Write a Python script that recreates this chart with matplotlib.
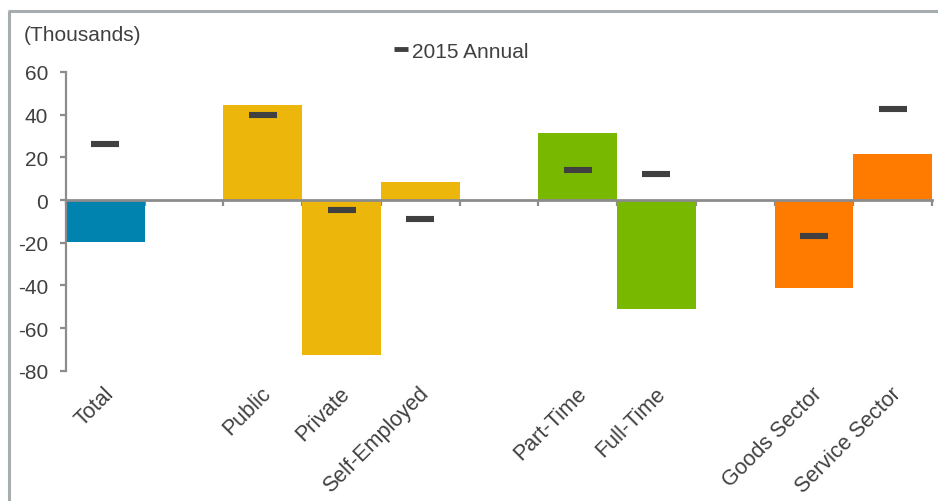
import matplotlib
matplotlib.use("Agg")
import matplotlib.pyplot as plt
from matplotlib.lines import Line2D
import numpy as np

plt.rcParams['font.family'] = ['Liberation Sans', 'DejaVu Sans']

# Data (blank slots separate the groups, as in the source spreadsheet)
categories = ["Total", "", "Public", "Private", "Self-Employed", "",
              "Part-Time", "Full-Time", "", "Goods Sector", "Service Sector"]
monthly_change = [-19.5, np.nan, 44.5, -72.7, 8.4, np.nan,
                  31.4, -51.0, np.nan, -41.1, 21.6]
annual_2015 = [26.4, np.nan, 40.0, -4.7, -8.8, np.nan,
               14.0, 12.0, np.nan, -17.0, 42.7]
bar_colors = ["#0083AE", "none", "#EDB60B", "#EDB60B", "#EDB60B", "none",
              "#78B900", "#78B900", "none", "#FF7B00", "#FF7B00"]
y_ticks = [60, 40, 20, 0, -20, -40, -60, -80]
legend_label = "2015 Annual"
unit_label = "(Thousands)"

W, H = 938, 502
fig = plt.figure(figsize=(W / 100, H / 100), dpi=100)

# frame lines (left and top)
border = "#A7ACAE"
fig.add_artist(Line2D([8.5 / W, 8.5 / W], [0, 1 - 12 / H], color=border, lw=2.2,
                      transform=fig.transFigure, solid_capstyle='butt'))
fig.add_artist(Line2D([7.5 / W, 1], [1 - 12 / H, 1 - 12 / H], color=border, lw=2.2,
                      transform=fig.transFigure, solid_capstyle='butt'))

ax_left, ax_right = 66 / W, 932 / W
ax_top, ax_bot = 1 - 73 / H, 1 - 371.7 / H
ax = fig.add_axes([ax_left, ax_bot, ax_right - ax_left, ax_top - ax_bot])

n = len(categories)
x = np.arange(n) + 0.5
vals = np.array(monthly_change, dtype=float)
ax.bar(x, np.nan_to_num(vals), width=1.0, color=bar_colors, linewidth=0, zorder=2)
ax.plot(x, annual_2015, linestyle='none', marker='_', markersize=19.5,
        markeredgewidth=4.4, color="#404040", zorder=4)

ax.set_xlim(0, n)
ax.set_ylim(-80, 60)
ax.set_yticks(y_ticks)
ax.set_yticklabels([str(v) for v in y_ticks])

gray = "#8C8C8C"
text_color = "#404040"
for s in ['top', 'right']:
    ax.spines[s].set_visible(False)
ax.spines['left'].set_color(gray)
ax.spines['left'].set_linewidth(1.6)
ax.spines['bottom'].set_position(('data', 0))
ax.spines['bottom'].set_color(gray)
ax.spines['bottom'].set_linewidth(2.0)
ax.spines['bottom'].set_zorder(3)

ax.set_xticks(np.arange(n + 1))
ax.set_xticklabels([])
ax.tick_params(axis='x', direction='out', length=4.5, width=1.6, color=gray)
ax.tick_params(axis='y', direction='out', length=4.5, width=1.6, color=gray,
               labelsize=15, labelcolor=text_color, pad=8.5)

for xi, lab in zip(x, categories):
    if lab:
        ax.annotate(lab, xy=(xi, 0), xycoords=('data', 'axes fraction'),
                    xytext=(-2, -12), textcoords='offset pixels',
                    rotation=45, rotation_mode='anchor', ha='right', va='top',
                    fontsize=15.5, color=text_color)

fig.text(24 / W, 1 - 35.5 / H, unit_label, fontsize=15, color=text_color,
         ha='left', va='center')

handle = Line2D([], [], linestyle='none', marker='_', markersize=10,
                markeredgewidth=3.5, color="#404040")
fig.legend([handle], [legend_label], loc='center left',
           bbox_to_anchor=(394 / W, 1 - 52 / H), frameon=False, fontsize=15,
           labelcolor=text_color, handlelength=0.7, handletextpad=0.15,
           borderpad=0, borderaxespad=0)

fig.savefig("out.png", dpi=100)
